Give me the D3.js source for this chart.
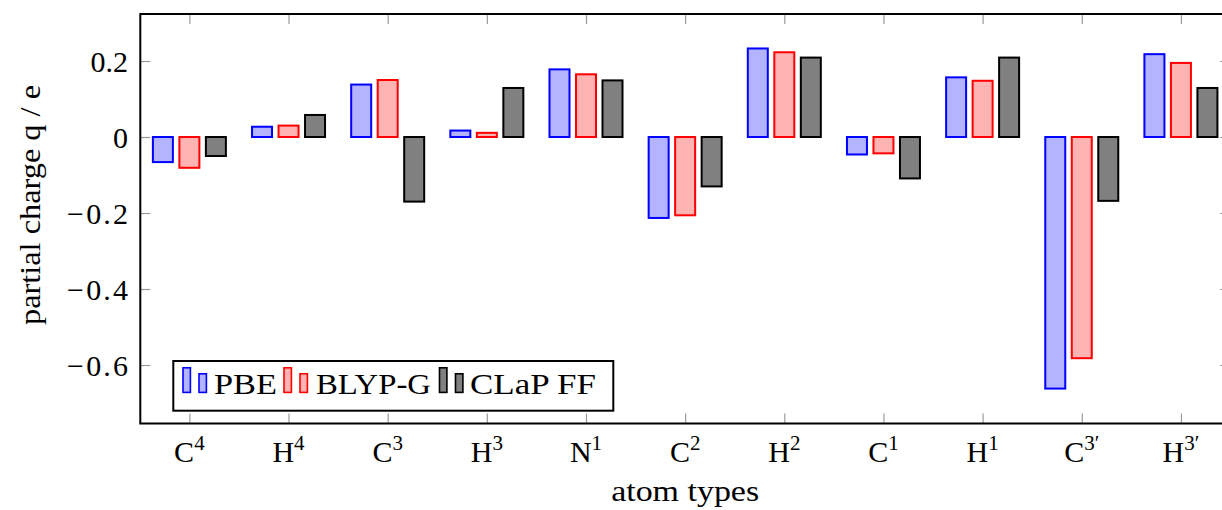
<!DOCTYPE html>
<html>
<head>
<meta charset="utf-8">
<script src="https://cdn.jsdelivr.net/npm/d3@7"></script>
<style>
  html, body { margin: 0; padding: 0; background: #fff; }
  svg { display: block; }
</style>
</head>
<body>
<svg id="chart" width="1222" height="510"></svg>
<script>
// ---- data ----
const categories = ["C4", "H4", "C3", "H3", "N1", "C2", "H2", "C1", "H1", "C3'", "H3'"];
const catBase = ["C", "H", "C", "H", "N", "C", "H", "C", "H", "C", "H"];
const catSup  = ["4", "4", "3", "3", "1", "2", "2", "1", "1", "3\u2032", "3\u2032"];
const seriesNames = ["PBE", "BLYP-G", "CLaP FF"];
const pbe  = [-0.066, 0.027, 0.138, 0.017, 0.178, -0.213, 0.233, -0.046, 0.157, -0.662, 0.218];
const blyp = [-0.081, 0.030, 0.150, 0.011, 0.165, -0.206, 0.223, -0.043, 0.148, -0.582, 0.195];
const clap = [-0.050, 0.058, -0.170, 0.129, 0.149, -0.130, 0.209, -0.109, 0.209, -0.168, 0.129];
const yTicks = [0.2, 0, -0.2, -0.4, -0.6];
const yTickLabels = ["0.2", "0", "\u22120.2", "\u22120.4", "\u22120.6"];

// ---- layout ----
const FONT = "'Liberation Serif', 'DejaVu Serif', serif";
const svg = d3.select("#chart");
const L = 140.3, R = 1230, T = 14, B = 423.5;

const x = d3.scalePoint().domain(categories).range([L, R]).padding(0.495);
const y = d3.scaleLinear().domain([-0.7539, 0.3237]).range([B, T]);

const styles = [
  { fill: "#b3b3ff", stroke: "#0000ff" },
  { fill: "#ffb3b3", stroke: "#ff0000" },
  { fill: "#808080", stroke: "#000000" }
];
const allSeries = [pbe, blyp, clap];
const offsets = [-26.5, 0, 26.5];
const barW = 20;

// bars
allSeries.forEach((vals, si) => {
  svg.append("g").selectAll("rect")
    .data(vals)
    .join("rect")
    .attr("x", (d, i) => x(categories[i]) + offsets[si] - barW / 2)
    .attr("y", d => Math.min(y(d), y(0)))
    .attr("width", barW)
    .attr("height", d => Math.abs(y(d) - y(0)))
    .attr("fill", styles[si].fill)
    .attr("stroke", styles[si].stroke)
    .attr("stroke-width", 2);
});

// axes (ticks inward, mirrored)
function styleAxis(g) {
  g.select(".domain").remove();
  g.selectAll(".tick line").attr("stroke", "#9a9a9a").attr("stroke-width", 1.2);
}
const yLeft = svg.append("g").attr("transform", `translate(${L},0)`)
  .call(d3.axisLeft(y).tickValues(yTicks).tickSize(-10).tickPadding(12.3)
    .tickFormat((d, i) => yTickLabels[i]));
styleAxis(yLeft);
yLeft.attr("font-family", null).attr("font-size", null);
yLeft.selectAll(".tick text").attr("font-size", 30).attr("dy", "0.34em")
  .each(function(d) {
    if (d < 0) d3.select(this).attr("textLength", 61).attr("lengthAdjust", "spacing");
  });

const yRight = svg.append("g").attr("transform", `translate(${R},0)`)
  .call(d3.axisRight(y).tickValues(yTicks).tickSize(-10).tickFormat(""));
styleAxis(yRight);

const xTop = svg.append("g").attr("transform", `translate(0,${T})`)
  .call(d3.axisTop(x).tickSize(-10).tickFormat(""));
styleAxis(xTop);

const xBottom = svg.append("g").attr("transform", `translate(0,${B})`)
  .call(d3.axisBottom(x).tickSize(-10).tickFormat(""));
styleAxis(xBottom);

// x tick labels with superscripts
const xl = svg.append("g").selectAll("text")
  .data(categories)
  .join("text")
  .attr("x", d => x(d))
  .attr("y", 462)
  .attr("text-anchor", "middle")
  .attr("font-size", 30);
xl.append("tspan").text((d, i) => catBase[i]);
xl.append("tspan").attr("font-size", 21).attr("dy", -12.5).text((d, i) => catSup[i]);

// frame
svg.append("rect")
  .attr("x", L).attr("y", T)
  .attr("width", R - L).attr("height", B - T)
  .attr("fill", "none").attr("stroke", "#000").attr("stroke-width", 2);

// axis labels
svg.append("text")
  .attr("transform", `translate(40,205) rotate(-90)`)
  .attr("text-anchor", "middle")
  .attr("font-size", 30)
  .attr("textLength", 240).attr("lengthAdjust", "spacingAndGlyphs")
  .text("partial charge q / e");

svg.append("text")
  .attr("x", (L + R) / 2).attr("y", 501)
  .attr("text-anchor", "middle")
  .attr("font-size", 30)
  .attr("textLength", 148).attr("lengthAdjust", "spacingAndGlyphs")
  .text("atom types");

// legend
const lg = svg.append("g");
lg.append("rect").attr("x", 173.3).attr("y", 361).attr("width", 440).attr("height", 49.7)
  .attr("fill", "#fff").attr("stroke", "#000").attr("stroke-width", 2);
const iconX = [183, 284, 439.5];
const textX = [214, 316, 470];
const textW = [63, 115, 126];
seriesNames.forEach((name, si) => {
  lg.append("rect").attr("x", iconX[si]).attr("y", 367.8).attr("width", 7.4).attr("height", 24.6)
    .attr("fill", styles[si].fill).attr("stroke", styles[si].stroke).attr("stroke-width", 1.6);
  lg.append("rect").attr("x", iconX[si] + 16).attr("y", 373.8).attr("width", 7.4).attr("height", 18.6)
    .attr("fill", styles[si].fill).attr("stroke", styles[si].stroke).attr("stroke-width", 1.6);
  lg.append("text").attr("x", textX[si]).attr("y", 393.5).attr("font-size", 30)
    .attr("textLength", textW[si]).attr("lengthAdjust", "spacingAndGlyphs")
    .text(name);
});

// all text in a serif face
svg.selectAll("text").style("font-family", FONT).style("fill", "#000");
</script>
</body>
</html>
